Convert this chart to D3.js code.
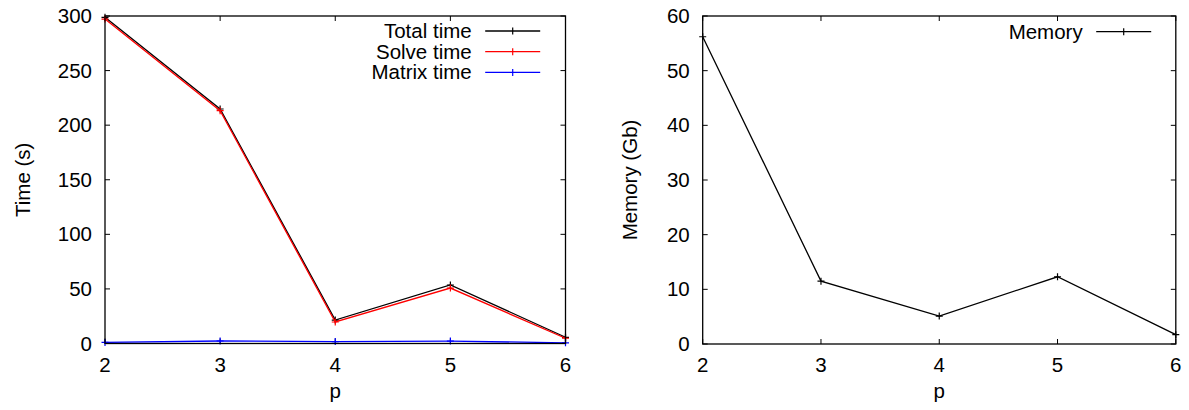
<!DOCTYPE html>
<html><head><meta charset="utf-8">
<script src="https://cdn.jsdelivr.net/npm/d3@7"></script>
<style>body{margin:0;background:#fff}svg{display:block}text{font-family:"Liberation Sans",Arial,sans-serif;font-size:20.5px;fill:#000}</style>
</head><body><svg id="c" width="1189" height="410"></svg>
<script>
const pValues = [2, 3, 4, 5, 6];
const totalTime = [298.8, 214.8, 21.5, 53.6, 5.7];
const solveTime = [297.2, 213.3, 19.7, 50.8, 4.8];
const matrixTime = [1.0, 2.3, 1.8, 2.2, 0.6];
const memory = [56.2, 11.5, 5.1, 12.3, 1.7];
const timeTicks = [0, 50, 100, 150, 200, 250, 300];
const memTicks = [0, 10, 20, 30, 40, 50, 60];
const xTicks = [2, 3, 4, 5, 6];

const svg = d3.select("#c");

function panel(opt) {
  const x = d3.scaleLinear().domain([2, 6]).range([opt.left, opt.right]);
  const y = d3.scaleLinear().domain(opt.yDomain).range([opt.bottom, opt.top]);
  const g = svg.append("g");
  const tl = 5;
  opt.yTicks.forEach(t => {
    g.append("line").attr("x1", opt.left).attr("x2", opt.left + tl).attr("y1", y(t)).attr("y2", y(t)).attr("stroke", "#000");
    g.append("line").attr("x1", opt.right).attr("x2", opt.right - tl).attr("y1", y(t)).attr("y2", y(t)).attr("stroke", "#000");
    g.append("text").attr("x", opt.left - 13).attr("y", y(t) + 7).attr("text-anchor", "end").text(t);
  });
  xTicks.forEach(t => {
    g.append("line").attr("x1", x(t)).attr("x2", x(t)).attr("y1", opt.bottom).attr("y2", opt.bottom - tl).attr("stroke", "#000");
    g.append("line").attr("x1", x(t)).attr("x2", x(t)).attr("y1", opt.top).attr("y2", opt.top + tl).attr("stroke", "#000");
    g.append("text").attr("x", x(t)).attr("y", 372).attr("text-anchor", "middle").text(t);
  });
  const line = d3.line().x((d, i) => x(pValues[i])).y(d => y(d));
  opt.series.forEach(s => {
    g.append("path").attr("d", line(s.values)).attr("fill", "none").attr("stroke", s.color).attr("stroke-width", 1.3);
    s.values.forEach((v, i) => {
      const cx = x(pValues[i]), cy = y(v);
      g.append("path").attr("d", `M${cx-3.5},${cy}H${cx+3.5}M${cx},${cy-3.5}V${cy+3.5}`).attr("stroke", s.color).attr("stroke-width", 1.2);
    });
  });
  g.append("rect").attr("x", opt.left).attr("y", opt.top).attr("width", opt.right - opt.left).attr("height", opt.bottom - opt.top)
    .attr("fill", "none").attr("stroke", "#000").attr("stroke-width", 1.3);
  opt.series.forEach((s, i) => {
    const ly = opt.legendY + i * 20.7;
    g.append("text").attr("x", opt.legendTextX).attr("y", ly + 7).attr("text-anchor", "end").text(s.name);
    const x1 = opt.legendTextX + 13.5, x2 = x1 + 55, mx = (x1 + x2) / 2;
    g.append("line").attr("x1", x1).attr("x2", x2).attr("y1", ly).attr("y2", ly).attr("stroke", s.color).attr("stroke-width", 1.3);
    g.append("path").attr("d", `M${mx},${ly-3.5}V${ly+3.5}`).attr("stroke", s.color).attr("stroke-width", 1.2);
  });
  g.append("text").attr("x", (opt.left + opt.right) / 2).attr("y", 398).attr("text-anchor", "middle").text("p");
  g.append("text").attr("transform", `translate(${opt.titleX},${(opt.top + opt.bottom) / 2}) rotate(-90)`)
    .attr("text-anchor", "middle").text(opt.yTitle);
}

panel({left: 105, right: 565.5, top: 16, bottom: 343.5, yDomain: [0, 300], yTicks: timeTicks,
  yTitle: "Time (s)", titleX: 29.5, legendTextX: 471.7, legendY: 31,
  series: [
    {name: "Total time", values: totalTime, color: "#000000"},
    {name: "Solve time", values: solveTime, color: "#ff0000"},
    {name: "Matrix time", values: matrixTime, color: "#0000ff"}
  ]});
panel({left: 702.7, right: 1175.8, top: 16, bottom: 344, yDomain: [0, 60], yTicks: memTicks,
  yTitle: "Memory (Gb)", titleX: 637, legendTextX: 1082.7, legendY: 31.7,
  series: [
    {name: "Memory", values: memory, color: "#000000"}
  ]});
</script></body></html>
